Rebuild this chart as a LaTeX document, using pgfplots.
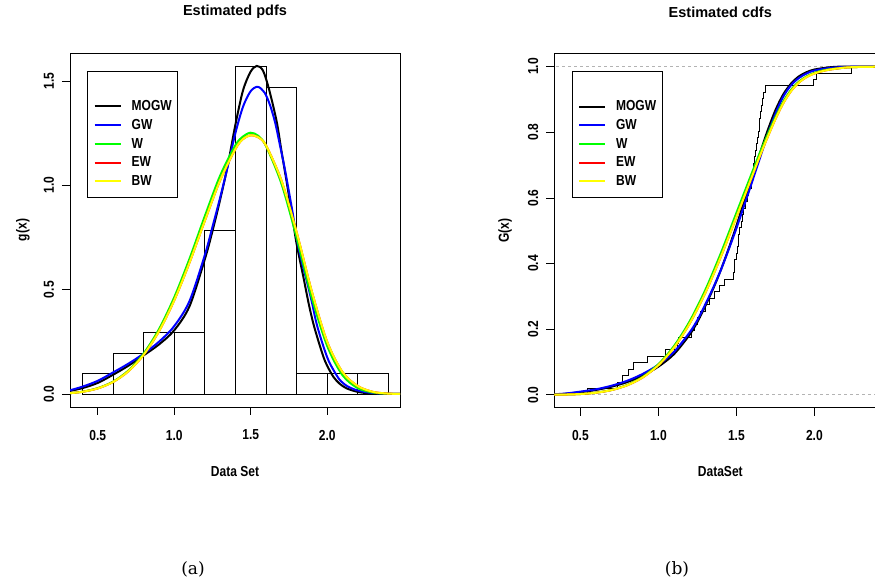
\documentclass[border=0pt]{standalone}
\usepackage{fontspec}
\setmainfont{Liberation Sans}
\newfontfamily\rf[FakeStretch=0.83]{Liberation Sans}
\newfontfamily\capfont{DejaVu Serif}
\usepackage{pgfplots}
\pgfplotsset{compat=1.18}
\definecolor{rgreen}{RGB}{0,255,0}
\definecolor{ryellow}{RGB}{255,255,0}
\definecolor{rred}{RGB}{255,0,0}
\definecolor{rblue}{RGB}{0,0,255}
\definecolor{rgray}{RGB}{179,179,179}
\newcommand\lf{\rf\bfseries\fontsize{14.5bp}{17bp}\selectfont}
\pgfplotsset{
  rbase/.style={
    scale only axis,
    axis line style={line width=0.8bp},
    every tick/.style={black, line width=0.8bp},
    major tick length=8bp,
    tick align=outside,
    xtick pos=bottom, ytick pos=left,
    ticklabel style={font=\lf},
    xticklabel style={anchor=north, inner sep=0pt, yshift=-14.8bp},
    yticklabel style={xshift=-7.8bp, rotate=90, anchor=south, inner sep=0pt},
    label style={font=\lf},
    title style={font=\bfseries\fontsize{14.5bp}{17bp}\selectfont, at={(axis description cs:0.5,1.0989)}, anchor=center},
    legend style={at={(axis description cs:0.0524,0.949)}, anchor=north west, draw=black, line width=0.8bp,
      fill=white, inner xsep=6bp, inner ysep=7bp, row sep=0bp, column sep=10bp,
      nodes={inner sep=0pt, minimum height=18.7bp}, font=\lf},
    legend image code/.code={\path (0bp,0bp) -- (26bp,0bp); \draw[##1] (4bp,0bp) -- (26bp,0bp);},
    legend cell align=left,
  },
  cv/.style={line width=2bp, smooth},
}
\begin{document}
\begin{tikzpicture}[x=1bp,y=1bp]
% ---------------- (a) pdfs ----------------
\begin{axis}[rbase,
  at={(70bp,175bp)}, anchor=south west,
  width=330bp, height=354bp,
  xmin=0.319, xmax=2.476, ymin=-0.0623, ymax=1.634,
  xtick={0.5,1,1.5,2}, xticklabels={0.5,1.0,1.5,2.0},
  ytick={0,0.5,1,1.5}, yticklabels={0.0,0.5,1.0,1.5},
  title={Estimated pdfs},
  xlabel={Data Set}, ylabel={g(x)},
  xlabel style={at={(axis description cs:0.5,-0.1828)}, anchor=center},
  ylabel style={at={(axis description cs:-0.1424,0.5)}, anchor=center},
]
\addlegendimage{empty legend}\addlegendentry{}
\addplot[ybar interval, fill=none, draw=black, line width=0.7bp, forget plot] coordinates {
(0.4,0.098)(0.6,0.196)(0.8,0.294)(1.0,0.294)(1.2,0.784)(1.4,1.569)(1.6,1.471)(1.8,0.098)(2.0,0.098)(2.2,0.098)(2.4,0.098)};
\addplot[cv, black] coordinates {
(0.30,0.012)(0.40,0.028)(0.50,0.053)(0.60,0.092)(0.70,0.135)(0.80,0.185)(0.90,0.237)(1.00,0.305)
(1.10,0.42)(1.20,0.645)(1.25,0.78)(1.30,0.93)(1.35,1.095)(1.40,1.29)(1.45,1.455)(1.50,1.545)
(1.54,1.572)(1.58,1.55)(1.62,1.46)(1.67,1.305)(1.70,1.17)(1.735,1.017)(1.77,0.86)(1.80,0.72)
(1.844,0.562)(1.88,0.43)(1.909,0.339)(1.94,0.26)(1.975,0.179)(2.00,0.135)(2.04,0.083)(2.08,0.05)
(2.127,0.027)(2.2,0.01)(2.28,0.003)(2.4,0.0005)(2.5,0.0)};
\addlegendentry{MOGW}
\addplot[cv, rblue] coordinates {
(0.30,0.014)(0.40,0.035)(0.50,0.063)(0.60,0.103)(0.70,0.145)(0.80,0.193)(0.90,0.25)(1.00,0.325)
(1.10,0.445)(1.20,0.665)(1.25,0.80)(1.30,0.94)(1.35,1.09)(1.40,1.25)(1.45,1.377)(1.50,1.451)
(1.546,1.472)(1.59,1.445)(1.626,1.385)(1.66,1.30)(1.691,1.193)(1.72,1.09)(1.746,0.986)(1.775,0.865)
(1.801,0.746)(1.835,0.63)(1.865,0.546)(1.90,0.44)(1.93,0.339)(1.97,0.24)(2.007,0.163)(2.045,0.11)
(2.083,0.067)(2.13,0.038)(2.19,0.019)(2.26,0.008)(2.34,0.003)(2.45,0.0005)(2.5,0.0)};
\addlegendentry{GW}
\addplot[cv, rgreen] coordinates {
(0.32,0.004)(0.40,0.011)(0.50,0.028)(0.60,0.059)(0.70,0.112)(0.80,0.194)(0.90,0.310)(1.00,0.463)
(1.10,0.648)(1.20,0.852)(1.30,1.046)(1.40,1.192)(1.45,1.234)(1.50,1.252)(1.55,1.237)(1.60,1.188)
(1.70,1.010)(1.80,0.750)(1.90,0.460)(2.00,0.230)(2.10,0.090)(2.20,0.028)(2.30,0.007)(2.40,0.001)(2.5,0.0)};
\addlegendentry{W}
\addplot[cv, rred] coordinates {
(0.32,0.004)(0.40,0.0105)(0.50,0.0267)(0.60,0.0573)(0.70,0.1085)(0.80,0.1874)(0.90,0.2996)(1.00,0.4482)
(1.10,0.6292)(1.20,0.8295)(1.30,1.0235)(1.40,1.1739)(1.45,1.222)(1.50,1.2397)(1.55,1.230)(1.60,1.1909)
(1.70,1.0250)(1.80,0.776)(1.90,0.49)(2.00,0.25)(2.10,0.105)(2.20,0.038)(2.30,0.01)(2.40,0.002)(2.5,0.0)};
\addlegendentry{EW}
\addplot[cv, ryellow] coordinates {
(0.32,0.004)(0.40,0.0105)(0.50,0.0267)(0.60,0.0573)(0.70,0.1085)(0.80,0.1874)(0.90,0.2996)(1.00,0.4482)
(1.10,0.6292)(1.20,0.8295)(1.30,1.0235)(1.40,1.1739)(1.45,1.222)(1.50,1.2397)(1.55,1.230)(1.60,1.1909)
(1.70,1.0250)(1.80,0.776)(1.90,0.49)(2.00,0.25)(2.10,0.105)(2.20,0.038)(2.30,0.01)(2.40,0.002)(2.5,0.0)};
\addlegendentry{BW}
\end{axis}
% ---------------- (b) cdfs ----------------
\begin{axis}[rbase,
  at={(554.3bp,174.3bp)}, anchor=south west,
  width=332bp, height=354.7bp,
  xmin=0.333, xmax=2.461, ymin=-0.039, ymax=1.0414,
  xtick={0.5,1,1.5,2}, xticklabels={0.5,1.0,1.5,2.0},
  ytick={0,0.2,0.4,0.6,0.8,1}, yticklabels={0.0,0.2,0.4,0.6,0.8,1.0},
  title={Estimated cdfs},
  xlabel={DataSet}, ylabel={G(x)},
  xlabel style={at={(axis description cs:0.5,-0.1804)}, anchor=center},
  ylabel style={at={(axis description cs:-0.1485,0.5)}, anchor=center},
]
\addlegendimage{empty legend}\addlegendentry{}
\addplot[rgray, dash pattern=on 3bp off 3bp, line width=0.8bp, forget plot] coordinates {(0,0)(3,0)};
\addplot[rgray, dash pattern=on 3bp off 3bp, line width=0.8bp, forget plot] coordinates {(0,1)(3,1)};
\addplot[const plot, black, line width=0.8bp, forget plot] coordinates {
(0.2,0)(0.547,0.0196)(0.737,0.0392)(0.772,0.0588)(0.808,0.0784)(0.842,0.0980)(0.929,0.1176)
(1.043,0.1373)(1.125,0.1569)(1.13,0.1765)(1.21,0.1961)(1.23,0.2157)(1.25,0.2353)(1.27,0.2549)
(1.30,0.2745)(1.33,0.2941)(1.36,0.3137)(1.39,0.3333)(1.42,0.3529)(1.48,0.3725)(1.485,0.3922)
(1.49,0.4118)(1.50,0.4314)(1.505,0.4510)(1.51,0.4706)(1.515,0.4902)(1.52,0.5098)(1.53,0.5294)
(1.54,0.5490)(1.545,0.5686)(1.555,0.5882)(1.57,0.6078)(1.58,0.6275)(1.595,0.6471)(1.602,0.6667)
(1.605,0.6863)(1.608,0.7059)(1.615,0.7255)(1.62,0.7451)(1.628,0.7647)(1.633,0.7843)(1.64,0.8039)
(1.645,0.8235)(1.65,0.8431)(1.655,0.8627)(1.66,0.8824)(1.667,0.9020)(1.675,0.9216)(1.685,0.9412)
(1.995,0.9608)(2.01,0.9804)(2.24,1.0)(2.6,1.0)};
\addplot[cv, black] coordinates {
(0.30,0.0005)(0.40,0.003)(0.50,0.008)(0.60,0.015)(0.70,0.025)(0.80,0.039)(0.90,0.059)(1.00,0.086)
(1.10,0.124)(1.20,0.183)(1.25,0.222)(1.30,0.270)(1.35,0.322)(1.40,0.380)(1.45,0.445)(1.50,0.515)
(1.55,0.589)(1.60,0.663)(1.65,0.735)(1.70,0.805)(1.75,0.867)(1.80,0.915)(1.85,0.948)(1.90,0.970)
(1.95,0.983)(2.00,0.991)(2.10,0.998)(2.20,1.0)(2.5,1.0)};
\addlegendentry{MOGW}
\addplot[cv, rblue] coordinates {
(0.30,0.001)(0.40,0.004)(0.50,0.010)(0.60,0.017)(0.70,0.028)(0.80,0.043)(0.90,0.064)(1.00,0.092)
(1.10,0.131)(1.20,0.190)(1.25,0.228)(1.30,0.275)(1.35,0.325)(1.40,0.380)(1.45,0.442)(1.50,0.507)
(1.55,0.577)(1.60,0.648)(1.65,0.720)(1.70,0.792)(1.75,0.856)(1.80,0.908)(1.85,0.943)(1.90,0.965)
(1.95,0.979)(2.00,0.988)(2.10,0.996)(2.20,0.999)(2.30,1.0)(2.5,1.0)};
\addlegendentry{GW}
\addplot[cv, rgreen] coordinates {
(0.30,0.0002)(0.40,0.001)(0.50,0.0027)(0.60,0.0069)(0.70,0.0152)(0.80,0.0303)(0.90,0.0551)(1.00,0.0935)
(1.10,0.1488)(1.20,0.2238)(1.30,0.3188)(1.40,0.4313)(1.50,0.5542)(1.60,0.677)(1.65,0.737)(1.70,0.793)
(1.75,0.846)(1.80,0.893)(1.85,0.929)(1.90,0.954)(1.95,0.970)(2.00,0.981)(2.05,0.988)(2.10,0.992)
(2.20,0.997)(2.30,0.999)(2.5,1.0)};
\addlegendentry{W}
\addplot[cv, rred] coordinates {
(0.30,0.0002)(0.40,0.001)(0.50,0.0026)(0.60,0.0066)(0.70,0.0147)(0.80,0.0293)(0.90,0.0533)(1.00,0.0904)
(1.10,0.144)(1.20,0.2169)(1.30,0.3098)(1.40,0.4202)(1.50,0.5417)(1.60,0.665)(1.65,0.727)(1.70,0.785)
(1.75,0.840)(1.80,0.888)(1.85,0.925)(1.90,0.951)(1.95,0.968)(2.00,0.979)(2.05,0.986)(2.10,0.991)
(2.20,0.997)(2.30,0.999)(2.5,1.0)};
\addlegendentry{EW}
\addplot[cv, ryellow] coordinates {
(0.30,0.0002)(0.40,0.001)(0.50,0.0026)(0.60,0.0066)(0.70,0.0147)(0.80,0.0293)(0.90,0.0533)(1.00,0.0904)
(1.10,0.144)(1.20,0.2169)(1.30,0.3098)(1.40,0.4202)(1.50,0.5417)(1.60,0.665)(1.65,0.727)(1.70,0.785)
(1.75,0.840)(1.80,0.888)(1.85,0.925)(1.90,0.951)(1.95,0.968)(2.00,0.979)(2.05,0.986)(2.10,0.991)
(2.20,0.997)(2.30,0.999)(2.5,1.0)};
\addlegendentry{BW}
\end{axis}
\node[font=\capfont\fontsize{17bp}{20bp}\selectfont, anchor=center] at (193,13) {(a)};
\node[font=\capfont\fontsize{17bp}{20bp}\selectfont, anchor=center] at (677,13) {(b)};
\pgfresetboundingbox
\path[use as bounding box] (0,0) rectangle (875,582);
\end{tikzpicture}
\end{document}
